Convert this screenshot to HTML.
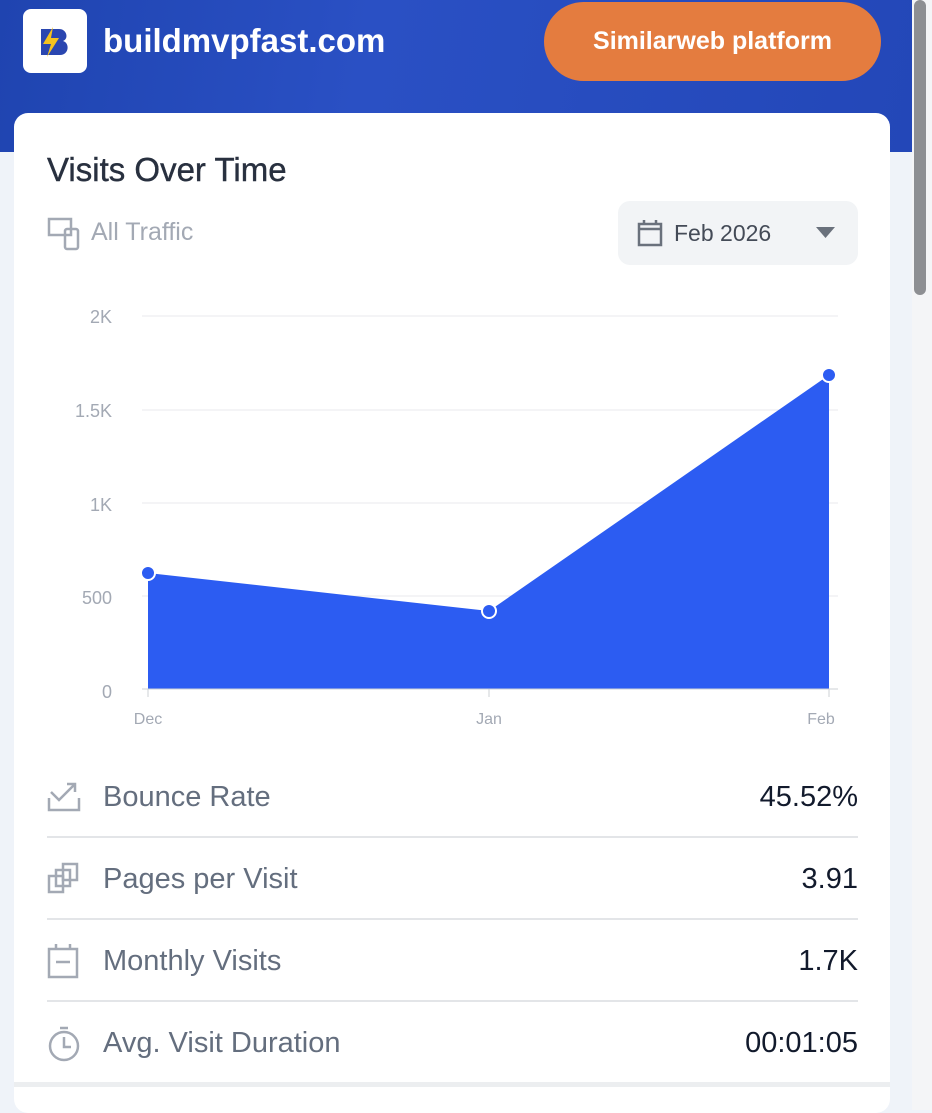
<!DOCTYPE html>
<html><head><meta charset="utf-8"><style>
*{margin:0;padding:0;box-sizing:border-box}
body{width:932px;height:1110px;overflow:hidden;background:#eff3f9;font-family:"Liberation Sans",sans-serif;position:relative}
.hdr{position:absolute;left:0;top:0;width:912px;height:152px;background:linear-gradient(100deg,#1f44b0,#2a50c4 40%,#2347b8)}
.logo{position:absolute;left:23px;top:9px;width:64px;height:64px;background:#fff;border-radius:8px}
.site{position:absolute;left:103px;top:22px;color:#fff;font-size:33px;font-weight:bold}
.btn{position:absolute;left:544px;top:2px;width:337px;height:79px;background:#e47c3f;border-radius:40px;color:#fff;font-size:25px;font-weight:bold;text-align:center;line-height:79px}
.card{position:absolute;left:14px;top:113px;width:876px;height:1000px;background:#fff;border-radius:14px}
.t{position:absolute;left:47px;top:151px;font-size:33px;color:#28303f;-webkit-text-stroke:0.4px #28303f}
.at{position:absolute;left:91px;top:218px;font-size:25px;color:#a3a9b4}
.dd{position:absolute;left:618px;top:201px;width:240px;height:64px;background:#f2f4f6;border-radius:12px}
.dd span{position:absolute;left:56px;top:19px;font-size:23px;color:#444b57}
.row{position:absolute;left:47px;width:811px;height:82px;border-bottom:2px solid #e3e5e8}
.row .l{position:absolute;left:56px;top:25px;font-size:29px;color:#646e7e}
.row .v{position:absolute;right:0;top:25px;font-size:29px;color:#121a2c}
.row svg{position:absolute;left:0;top:24px}
.bot{position:absolute;left:14px;top:1082px;width:876px;height:5px;background:#eceef0}
.sb{position:absolute;left:912px;top:0;width:20px;height:1110px;background:#f4f5f7}
.th{position:absolute;left:914px;top:0;width:12px;height:295px;background:#8d8f93;border-radius:6px}
</style></head><body>
<div class="hdr"></div>
<div class="logo"><svg width="64" height="64"><path d="M18 20h18c8 0 10 10 4 12 7 2 6 14-3 14H18z" fill="#2a46b0"/><path d="M30 18l-10 17h8l-4 13 12-19h-8z" fill="#f4c21e"/></svg></div>
<div class="site">buildmvpfast.com</div>
<div class="btn">Similarweb platform</div>
<div class="card"></div>
<div class="t">Visits Over Time</div>
<svg style="position:absolute;left:47px;top:217px" width="34" height="34" fill="none" stroke="#a3a9b4" stroke-width="2.5"><rect x="2" y="2" width="22" height="16"/><rect x="18" y="12" width="13" height="20" rx="2"/></svg>
<div class="at">All Traffic</div>
<div class="dd"><svg style="position:absolute;left:19px;top:18px" width="26" height="28" fill="none" stroke="#6a717c" stroke-width="2.5"><rect x="2" y="5" width="22" height="21"/><line x1="2" y1="10" x2="24" y2="10"/><line x1="7" y1="1" x2="7" y2="6"/><line x1="19" y1="1" x2="19" y2="6"/></svg><span>Feb 2026</span><svg style="position:absolute;left:198px;top:26px" width="20" height="12"><path d="M0 0h19L9.5 11z" fill="#6a717c"/></svg></div>
<svg style="position:absolute;left:0;top:0" width="932" height="740" font-family="Liberation Sans,sans-serif" font-size="18" fill="#a3a9b4">
<g stroke="#e8eaed" stroke-width="1"><line x1="142" y1="316" x2="838" y2="316"/><line x1="142" y1="410" x2="838" y2="410"/><line x1="142" y1="503" x2="838" y2="503"/><line x1="142" y1="596" x2="838" y2="596"/></g>
<g text-anchor="end"><text x="112" y="323">2K</text><text x="112" y="417">1.5K</text><text x="112" y="511">1K</text><text x="112" y="604">500</text><text x="112" y="698">0</text></g>
<path d="M148 573L489 611L829 375L829 689L148 689Z" fill="#2c5cf2"/>
<line x1="142" y1="689" x2="838" y2="689" stroke="#ccd0d6"/>
<g stroke="#ccd0d6"><line x1="148" y1="689" x2="148" y2="697"/><line x1="489" y1="689" x2="489" y2="697"/><line x1="829" y1="689" x2="829" y2="697"/></g>
<g fill="#2c5cf2" stroke="#fff" stroke-width="2"><circle cx="148" cy="573" r="7"/><circle cx="489" cy="611" r="7"/><circle cx="829" cy="375" r="7"/></g>
<g font-size="16" text-anchor="middle"><text x="148" y="724">Dec</text><text x="489" y="724">Jan</text><text x="821" y="724">Feb</text></g>
</svg>
<div class="row" style="top:756px"><svg width="34" height="34" fill="none" stroke="#a3a9b4" stroke-width="2.5"><path d="M2 18v12h30v-12M4 12l8 8 16-16M20 4h8v8"/></svg><span class="l">Bounce Rate</span><span class="v">45.52%</span></div>
<div class="row" style="top:838px"><svg width="34" height="34" fill="none" stroke="#a3a9b4" stroke-width="2.5"><rect x="2" y="14" width="14" height="16"/><rect x="9" y="8" width="14" height="16"/><rect x="16" y="2" width="14" height="16"/></svg><span class="l">Pages per Visit</span><span class="v">3.91</span></div>
<div class="row" style="top:920px"><svg width="34" height="36" fill="none" stroke="#a3a9b4" stroke-width="2.5"><rect x="2" y="5" width="28" height="28"/><line x1="9" y1="18" x2="23" y2="18"/><line x1="9" y1="0" x2="9" y2="6"/><line x1="23" y1="0" x2="23" y2="6"/></svg><span class="l">Monthly Visits</span><span class="v">1.7K</span></div>
<div class="row" style="top:1002px;height:80px;border-bottom:none"><svg width="34" height="36" fill="none" stroke="#a3a9b4" stroke-width="2.5"><circle cx="17" cy="20" r="14"/><path d="M17 11v10h7M13 2h8"/></svg><span class="l">Avg. Visit Duration</span><span class="v">00:01:05</span></div>
<div class="bot"></div>
<div class="sb"></div><div class="th"></div>
</body></html>
